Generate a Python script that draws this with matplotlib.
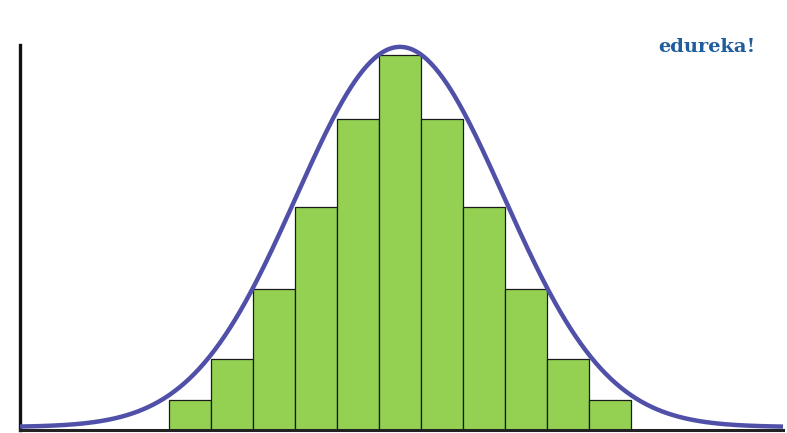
import matplotlib
matplotlib.use("Agg")
import matplotlib.pyplot as plt
import numpy as np

# bar centres (in bin units) and bar heights
bin_centres = [-5, -4, -3, -2, -1, 0, 1, 2, 3, 4, 5]
bar_heights = [0.8, 1.9, 3.75, 5.95, 8.3, 10.0, 8.3, 5.95, 3.75, 1.9, 0.8]

# normal curve drawn over the bars
curve_peak = 10.22
curve_sigma = 2.47
curve_floor = 0.08

fig = plt.figure(figsize=(7.87, 4.33), dpi=100)
ax = fig.add_axes([20 / 787, 3 / 433, 763 / 787, 385 / 433])

ax.bar(bin_centres, bar_heights, width=1.0, color="#94d152",
       edgecolor="#1a1a1a", linewidth=0.9, zorder=2)

xs = np.linspace(-9.05, 9.12, 600)
ys = curve_floor + (curve_peak - curve_floor) * np.exp(-xs ** 2 / (2 * curve_sigma ** 2))
ax.plot(xs, ys, color="#5050a8", linewidth=3.2, zorder=3, clip_on=False,
        solid_capstyle="butt")

ax.set_xlim(-9.05, 9.12)
ax.set_ylim(0, 10.27)
ax.set_xticks([])
ax.set_yticks([])
for side in ["top", "right"]:
    ax.spines[side].set_visible(False)
ax.spines["left"].set_linewidth(2.4)
ax.spines["left"].set_color("#111111")
ax.spines["bottom"].set_linewidth(2.2)
ax.spines["bottom"].set_color("#222222")

fig.text(707 / 787, 1 - 47 / 433, "edureka!", ha="center", va="center",
         fontsize=14, fontweight="bold", family="DejaVu Serif", color="#1f5d9c")

fig.savefig("out.png", dpi=100)
